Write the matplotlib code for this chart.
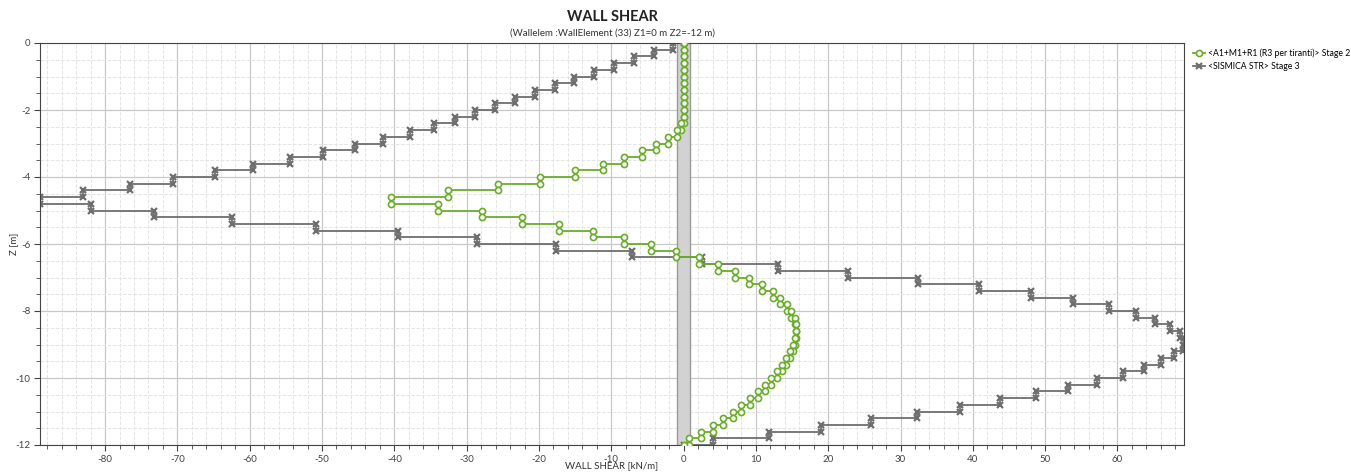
import numpy as np
import matplotlib
matplotlib.use("Agg")
import matplotlib.pyplot as plt
from matplotlib.ticker import MultipleLocator

plt.rcParams['font.family'] = ['Lato', 'DejaVu Sans']
plt.rcParams['axes.unicode_minus'] = False

# element length along the wall [m]
dz = 0.2

# shear per element, from top (Z=0) to bottom (Z=-12)
shear_stage2 = [0, 0, 0, 0, 0, 0, 0, 0, 0, 0, 0, 0,
                -0.3, -0.9, -2.1, -3.75, -5.8, -8.2, -11.15, -15.0, -19.85, -25.7,
                -32.6, -40.4, -33.9, -27.9, -22.3, -17.2, -12.55, -8.3, -4.5, -1.0,
                2.1, 4.7, 7.1, 9.1, 10.8, 12.3, 13.3, 14.3, 14.9, 15.4,
                15.6, 15.6, 15.4, 15.1, 14.7, 14.2, 13.6, 12.9, 12.1, 11.2,
                10.3, 9.2, 8.0, 6.8, 5.4, 4.0, 2.4, 0.8]
shear_stage3 = [-1.4, -4.1, -6.85, -9.6, -12.35, -15.1, -17.85, -20.6, -23.35, -26.1,
                -28.85, -31.6, -34.5, -37.9, -41.5, -45.5, -49.8, -54.4, -59.5, -64.8,
                -70.6, -76.6, -83.0, -89.0, -82.0, -73.2, -62.5, -50.8, -39.5, -28.5,
                -17.7, -7.1, 2.6, 13.0, 22.8, 32.4, 40.8, 48.0, 53.9, 58.8,
                62.5, 65.2, 67.3, 68.6, 69.2, 69.0, 67.8, 66.0, 63.7, 60.8,
                57.2, 53.2, 48.7, 43.7, 38.2, 32.3, 25.9, 19.0, 11.8, 4.0]

labels = ['<A1+M1+R1 (R3 per tiranti)> Stage 2', '<SISMICA STR> Stage 3']
colors = ['#6aad2b', '#6e6e6e']


def step_points(vals):
    vals = np.asarray(vals, dtype=float)
    n = len(vals)
    z_top = -np.arange(n) * dz
    z_bot = z_top - dz
    x = np.concatenate([[0], np.repeat(vals, 2), [0]])
    z = np.concatenate([[0], np.column_stack([z_top, z_bot]).ravel(), [-n * dz]])
    return x, z


fig = plt.figure(figsize=(13.51, 4.74), dpi=100)
ax = fig.add_axes([40 / 1351, 1 - 445 / 474, (1184 - 40) / 1351, (445 - 43) / 474])

# wall
ax.axvspan(-0.85, 0.85, facecolor='#d2d2d2', edgecolor='#9a9a9a', lw=1, zorder=1)

x2, z2 = step_points(shear_stage2)
x3, z3 = step_points(shear_stage3)
ax.plot(x2, z2, color=colors[0], lw=1.3, marker='o', ms=4.4, mfc='white',
        mec=colors[0], mew=1.2, label=labels[0], zorder=3)
ax.plot(x3, z3, color=colors[1], lw=1.3, marker='x', ms=4, mec=colors[1],
        mew=1.6, label=labels[1], zorder=2)

ax.set_xlim(min(shear_stage3), max(shear_stage3))
ax.set_ylim(-12, 0)
ax.xaxis.set_major_locator(MultipleLocator(10))
ax.xaxis.set_minor_locator(MultipleLocator(2))
ax.yaxis.set_major_locator(MultipleLocator(2))
ax.yaxis.set_minor_locator(MultipleLocator(0.5))
ax.grid(which='major', color='#c8c8c8', lw=0.9)
ax.grid(which='minor', color='#e4e4e4', lw=0.7, ls='--')
ax.set_axisbelow(True)
ax.tick_params(which='both', labelsize=7, colors='#444444', direction='out')
ax.tick_params(which='major', length=4, pad=3)
ax.tick_params(which='minor', length=3)
for s in ax.spines.values():
    s.set_color('#444444')

fig.text(612 / 1351, 1 - 466 / 474, 'WALL SHEAR [kN/m]', ha='center', va='center',
         fontsize=7, color='#333333')
fig.text(14 / 1351, 1 - 244 / 474, 'Z [m]', ha='center', va='center', rotation=90,
         fontsize=7, color='#333333')

fig.text(612 / 1351, 1 - 17 / 474, 'WALL SHEAR', ha='center', va='center',
         fontsize=10.5, fontweight='bold', color='#222222')
fig.text(612 / 1351, 1 - 33 / 474, '(Wallelem :WallElement (33) Z1=0 m Z2=-12 m)',
         ha='center', va='center', fontsize=7, color='#333333')

fig.legend(loc='upper left', bbox_to_anchor=(1190 / 1351, 1 - 45 / 474), frameon=False,
           fontsize=6.2, handlelength=1.3, handletextpad=0.4, labelspacing=0.45,
           borderaxespad=0)

fig.savefig('out.png', dpi=100)
